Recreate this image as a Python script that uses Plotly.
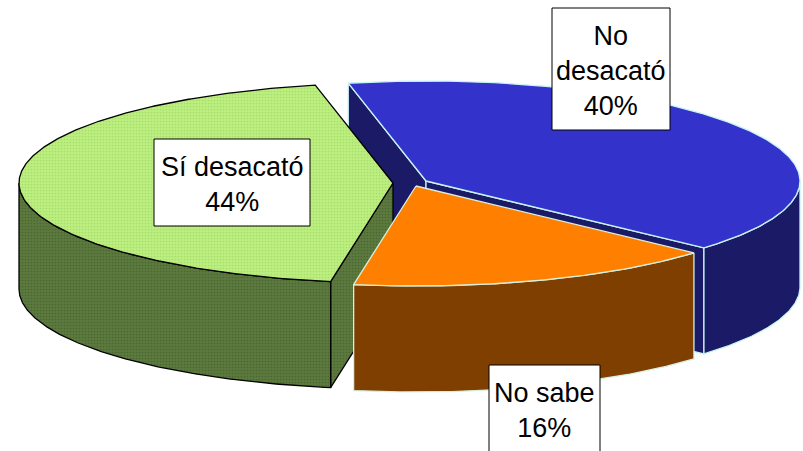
import numpy as np
import plotly.graph_objects as go

categories = ["No<br>desacató", "No sabe", "Sí desacató"]
values = [40, 16, 44]

# projection / layout constants (pixels in an 803x451 frame)
W, H = 803, 451
START = -12
RX, RY, DEPTH = 374, 100, 106
centers = [(426, 181), (416, 186), (393, 183)]
top_col = ["#3333CC", "#FF8000", "#BCEF80"]
side_col = ["#1A1A66", "#7F3F00", "#5C7A3E"]
line_col = ["#C8F4F4", "#D8F0E0", "#000000"]
dotted = [False, False, True]
label_box = [(552, 8, 670, 130), (489, 365, 600, 456), (154, 139, 310, 226)]
label_mid = [(611, 71), (544.5, 410.5), (232, 184)]

def pt(c, a, drop=0.0):
    r = np.radians(a)
    return c[0] + RX * np.sin(r), c[1] - RY * np.cos(r) + drop

def arc(c, a0, a1, drop=0.0):
    n = max(2, int(abs(a1 - a0) * 2))
    t = np.linspace(a0, a1, n)
    x, y = pt(c, t, drop)
    return list(x), list(y)

def poly(fig, xs, ys, fill, line, width, pattern=None):
    kw = dict(fillpattern=pattern) if pattern else {}
    fig.add_trace(go.Scatter(x=xs + xs[:1], y=ys + ys[:1], mode="lines", fill="toself",
                             fillcolor=fill, line=dict(color=line, width=width),
                             hoverinfo="skip", showlegend=False, **kw))

def dots(bg, fg):
    return dict(shape=".", size=3, solidity=0.25, bgcolor=bg, fgcolor=fg, fillmode="replace")

fig = go.Figure()

# slice spans derived from the values
bounds = np.concatenate([[0], np.cumsum(values)]) / sum(values) * 360 + START
spans = [(bounds[i], bounds[i + 1]) for i in range(len(values))]

# painter's order: blue, green, orange
for i in [0, 2, 1]:
    a0, a1 = spans[i]
    c = centers[i]
    w = 1.3
    pat_top = dots(top_col[i], "#A6DC6A") if dotted[i] else None
    pat_side = dots(side_col[i], "#4A6630") if dotted[i] else None
    # radial cut faces: only those whose outward normal points toward the viewer
    for a, normal in ((a0, a0 - 90), (a1, a1 + 90)):
        if np.cos(np.radians(normal)) >= 0:
            continue
        ex, ey = pt(c, a)
        poly(fig, [c[0], float(ex), float(ex), c[0]], [c[1], float(ey), float(ey) + DEPTH, c[1] + DEPTH],
             side_col[i], line_col[i], w, pat_side)
    # outer wall: visible lower half of the ellipse only
    lo, hi = max(a0, 90), min(a1, 270)
    if hi > lo:
        xt, yt = arc(c, lo, hi)
        xb, yb = arc(c, hi, lo, DEPTH)
        poly(fig, xt + xb, yt + yb, side_col[i], line_col[i], w, pat_side)
    # top face
    xt, yt = arc(c, a0, a1)
    poly(fig, [c[0]] + xt, [c[1]] + yt, top_col[i], line_col[i], w, pat_top)

for cat, v, b, m in zip(categories, values, label_box, label_mid):
    fig.add_shape(type="rect", x0=b[0], x1=b[2], y0=b[1], y1=b[3], xref="x", yref="y",
                  fillcolor="white", line=dict(color="black", width=1), layer="above")
    fig.add_annotation(x=m[0], y=m[1], xref="x", yref="y",
                       text=f"{cat}<br>{v}%", showarrow=False, align="center",
                       borderpad=0,
                       font=dict(family="Liberation Sans, Arial, sans-serif", size=27, color="black"))

fig.update_layout(width=W, height=H, margin=dict(l=0, r=0, t=0, b=0),
                  paper_bgcolor="white", plot_bgcolor="white", showlegend=False,
                  xaxis=dict(range=[0, W], visible=False, fixedrange=True),
                  yaxis=dict(range=[H, 0], visible=False, fixedrange=True))
fig.write_html("out.html", config={"displayModeBar": False},
               post_script="document.body.style.margin='0';document.body.style.overflow='hidden';")
